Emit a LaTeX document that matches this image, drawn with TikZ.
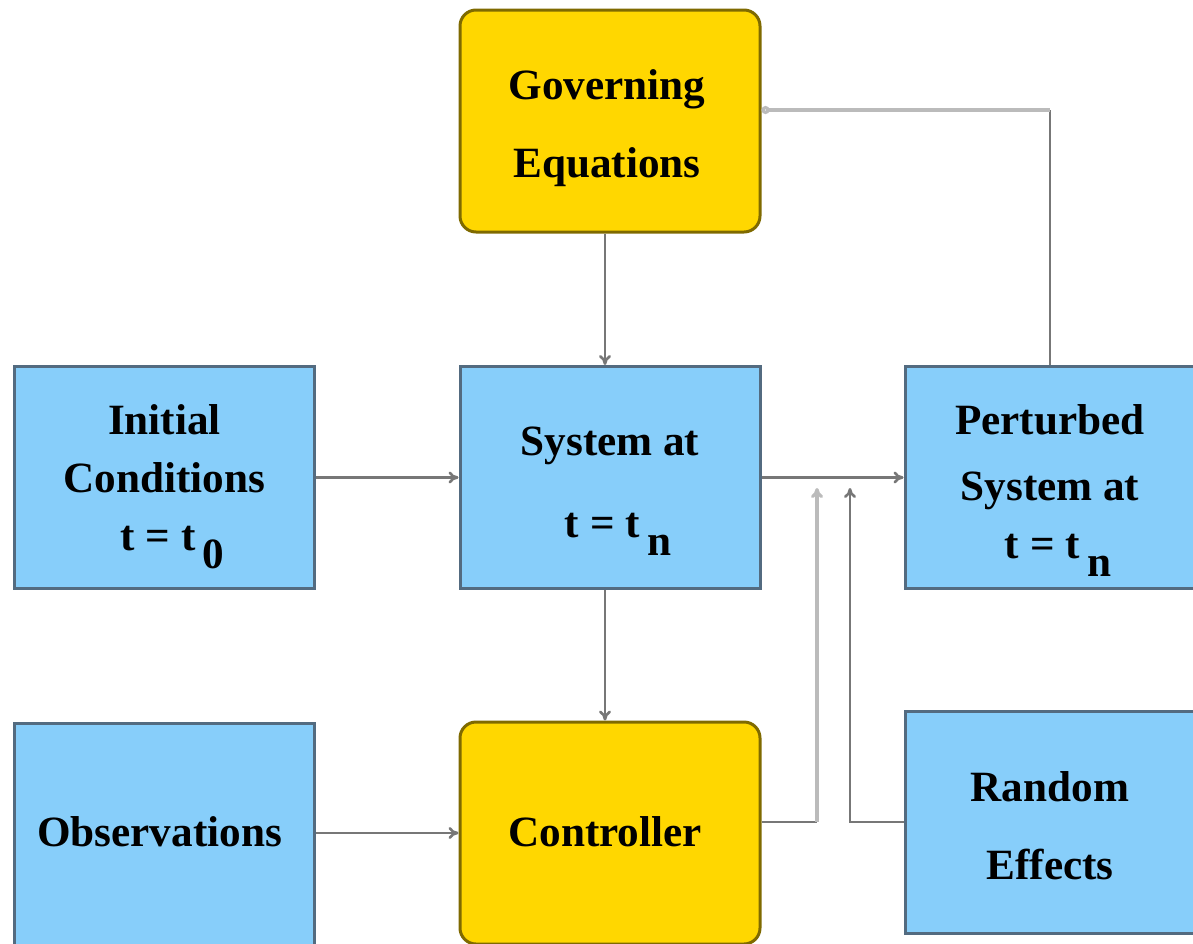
\documentclass[tikz,border=0pt]{standalone}
\usepackage{fontspec}
\setmainfont{Liberation Serif}
\usetikzlibrary{arrows.meta,calc}
\definecolor{gold}{HTML}{FFD700}
\definecolor{goldedge}{HTML}{7F6A00}
\definecolor{sky}{HTML}{87CEFA}
\definecolor{skyedge}{HTML}{536B80}
\definecolor{wiredark}{HTML}{777777}
\definecolor{wirelight}{HTML}{BBBBBB}
\newcommand{\tline}[1]{\hspace*{8pt}t = t\,\raisebox{-0.42em}{#1}}
\begin{document}
\begin{tikzpicture}[x=0.5pt,y=-0.5pt,
  box/.style={draw=skyedge,fill=sky,line width=1.5pt,minimum width=150pt,
    minimum height=111pt,inner sep=0pt},
  rbox/.style={box,draw=goldedge,fill=gold,rounded corners=8pt},
  txt/.style={align=center,inner sep=0pt,
    font=\fontsize{21.6}{24}\selectfont\bfseries},
  wire/.style={draw=wiredark,line width=1.3pt,-{To[length=5pt,width=6pt]}},
  plain/.style={draw=wiredark,line width=1.3pt},
  lightwire/.style={draw=wirelight,line width=1.6pt}]
\useasboundingbox (0,0) rectangle (1193,943);
% boxes
\node[rbox] (gov) at (610,121) {};
\node[box] (init) at (164.5,477.5) {};
\node[box] (sys) at (610,477.5) {};
\node[box] (pert) at (1055,477.5) {};
\node[box] (obs) at (164.5,834) {};
\node[rbox] (ctrl) at (610,833) {};
\node[box] (rand) at (1055,822) {};
% texts
\node[txt] (govt) at ($(gov)+(-3,7)$) {Governing\\[15pt]Equations};
\node[txt] (initt) at ($(init)+(0,9)$) {Initial\\[5pt]Conditions\\[5pt]\tline{0}};
\node[txt] (syst) at ($(sys)+(0,14)$) {System at\\[17pt]\tline{n}};
\node[txt] (pertt) at ($(pert)+(-5,13)$) {Perturbed\\[9pt]System at\\[5pt]\tline{n}};
\node[txt] (obst) at ($(obs)+(-5,-2)$) {Observations};
\node[txt] (ctrlt) at ($(ctrl)+(-5,-1)$) {Controller};
\node[txt] (randt) at ($(rand)+(-5,4)$) {Random\\[15pt]Effects};
% connectors
\coordinate (fb) at (1050,110);
\coordinate (cc) at (817,822);
\coordinate (ct) at (817,488);
\coordinate (rc) at (850,822);
\coordinate (rt) at (850,488);
\draw[wire] ([xshift=-2.5pt]gov.south) -- ([xshift=-2.5pt]sys.north);
\draw[wire] (init) -- (sys);
\draw[wire] (sys) -- (pert);
\draw[wire] ([xshift=-2.5pt]sys.south) -- ([xshift=-2.5pt]ctrl.north);
\draw[wire] (obs.east |- ctrl) -- (ctrl);
\draw[plain] (pert.north -| fb) -- (fb);
\draw[lightwire,-{Circle[open,length=4pt,width=4pt]}] (fb) -- (gov.east |- fb);
\draw[plain] (ctrl.east |- cc) -- (cc);
\draw[lightwire,-{To[length=5pt,width=6pt]}] (cc) -- (ct);
\draw[wire] (rand.west |- rc) -- (rc) -- (rt);
\end{tikzpicture}
\end{document}
